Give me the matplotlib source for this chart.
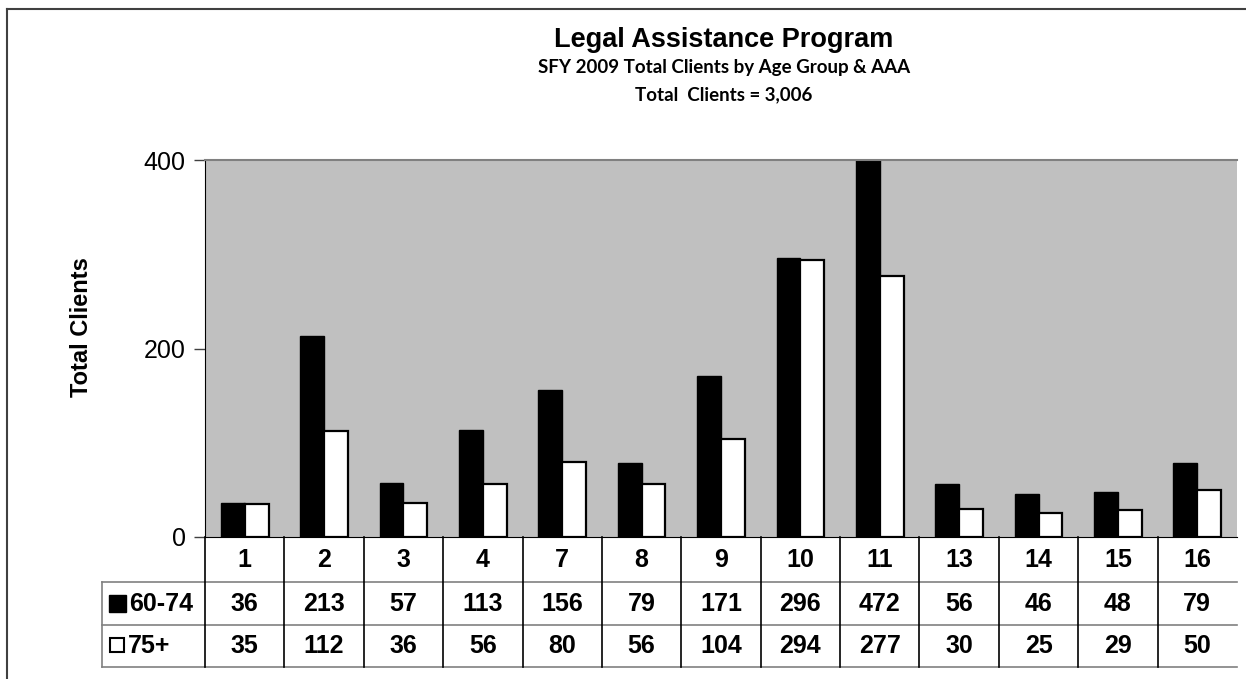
import numpy as np
import matplotlib
matplotlib.use("Agg")
import matplotlib.pyplot as plt
from matplotlib.patches import Rectangle
from matplotlib.transforms import blended_transform_factory

# AAA regions and client counts per age group
regions = ["1", "2", "3", "4", "7", "8", "9", "10", "11", "13", "14", "15", "16"]
age_60_74 = [36, 213, 57, 113, 156, 79, 171, 296, 472, 56, 46, 48, 79]
age_75_plus = [35, 112, 36, 56, 80, 56, 104, 294, 277, 30, 25, 29, 50]
series_names = ["60-74", "75+"]
yticks = [0, 200, 400]

title = "Legal Assistance Program"
subtitle = "SFY 2009 Total Clients by Age Group & AAA"
total_line = "Total  Clients = 3,006"

W, H = 1246, 679
fig = plt.figure(figsize=(W / 100, H / 100), dpi=100)
plt.rcParams['font.family'] = ['Liberation Sans', 'DejaVu Sans']

# plot area in pixels: x 205..1237, y 160..537
ax = fig.add_axes([205 / W, 1 - 537 / H, 1032 / W, 377 / H])
ax.set_facecolor("#c0c0c0")

n = len(regions)
x = np.arange(n)
bw = 0.30
ax.bar(x - bw, age_60_74, width=bw, align="edge", color="black", edgecolor="black", linewidth=1)
ax.bar(x, age_75_plus, width=bw, align="edge", color="white", edgecolor="black", linewidth=1.6)

ax.set_xlim(-0.5, n - 0.5)
ax.set_ylim(0, 400)
ax.set_yticks(yticks)
ax.set_yticklabels([str(t) for t in yticks], fontsize=18)
ax.tick_params(axis="y", direction="out", length=8, width=1, color="#404040", pad=6)
ax.set_xticks([])

ax.spines["right"].set_visible(False)
ax.spines["top"].set_color("#808080")
ax.spines["top"].set_linewidth(1.5)
ax.spines["left"].set_color("black")
ax.spines["bottom"].set_color("black")

# data table under the plot
tr = blended_transform_factory(ax.transData, ax.transAxes)
px = n / 1032  # data units per pixel along x
rows_y = [0, -0.1194, -0.2334, -0.3448]
lab_left = -0.5 - 103 * px
right = n - 0.5

for i, r in enumerate(regions):
    ax.text(i, (rows_y[0] + rows_y[1]) / 2, r, transform=tr, ha="center", va="center",
            fontsize=18, fontweight="bold", clip_on=False)
    ax.text(i, (rows_y[1] + rows_y[2]) / 2, str(age_60_74[i]), transform=tr, ha="center",
            va="center", fontsize=18, fontweight="bold", clip_on=False)
    ax.text(i, (rows_y[2] + rows_y[3]) / 2, str(age_75_plus[i]), transform=tr, ha="center",
            va="center", fontsize=18, fontweight="bold", clip_on=False)

# legend keys and series names
ax.add_patch(Rectangle((-0.5 - 96 * px, -0.1995), 17 * px, 17 / 377, transform=tr,
                       facecolor="black", edgecolor="black", clip_on=False))
ax.add_patch(Rectangle((-0.5 - 95 * px, -0.3060), 14 * px, 14 / 377, transform=tr,
                       facecolor="white", edgecolor="black", lw=1.5, clip_on=False))
ax.text(-0.5 - 76 * px, (rows_y[1] + rows_y[2]) / 2, series_names[0], transform=tr,
        ha="left", va="center", fontsize=18, fontweight="bold", clip_on=False)
ax.text(-0.5 - 77 * px, (rows_y[2] + rows_y[3]) / 2, series_names[1], transform=tr,
        ha="left", va="center", fontsize=18, fontweight="bold", clip_on=False)

# gridlines of the table
for yy in rows_y[1:]:
    ax.plot([lab_left, right], [yy, yy], transform=tr, color="#808080", lw=1.2, clip_on=False)
ax.plot([lab_left, lab_left], [rows_y[1], rows_y[3]], transform=tr, color="#808080", lw=1.2, clip_on=False)
for i in range(n):
    ax.plot([i - 0.5, i - 0.5], [rows_y[0], rows_y[3]], transform=tr, color="black", lw=1.2, clip_on=False)

# titles
cx = 724 / W
fig.text(cx, 1 - 47 / H, title, ha="center", va="baseline", fontsize=19.5, fontweight="bold")
fig.text(cx, 1 - 73 / H, subtitle, ha="center", va="baseline", fontsize=13.5, fontweight="bold",
         family=["Lato", "DejaVu Sans"])
fig.text(cx, 1 - 100 / H, total_line, ha="center", va="baseline", fontsize=13.5, fontweight="bold",
         family=["Lato", "DejaVu Sans"])

fig.text(82 / W, 1 - 327 / H, "Total Clients", rotation=90, ha="center", va="center",
         fontsize=17, fontweight="bold")

# chart frame
fig.add_artist(plt.Line2D([7 / W, 7 / W], [0, 1 - 9 / H], color="#404040", lw=1.5))
fig.add_artist(plt.Line2D([7 / W, 1], [1 - 9 / H, 1 - 9 / H], color="#404040", lw=1.5))

fig.savefig("out.png", dpi=100)
